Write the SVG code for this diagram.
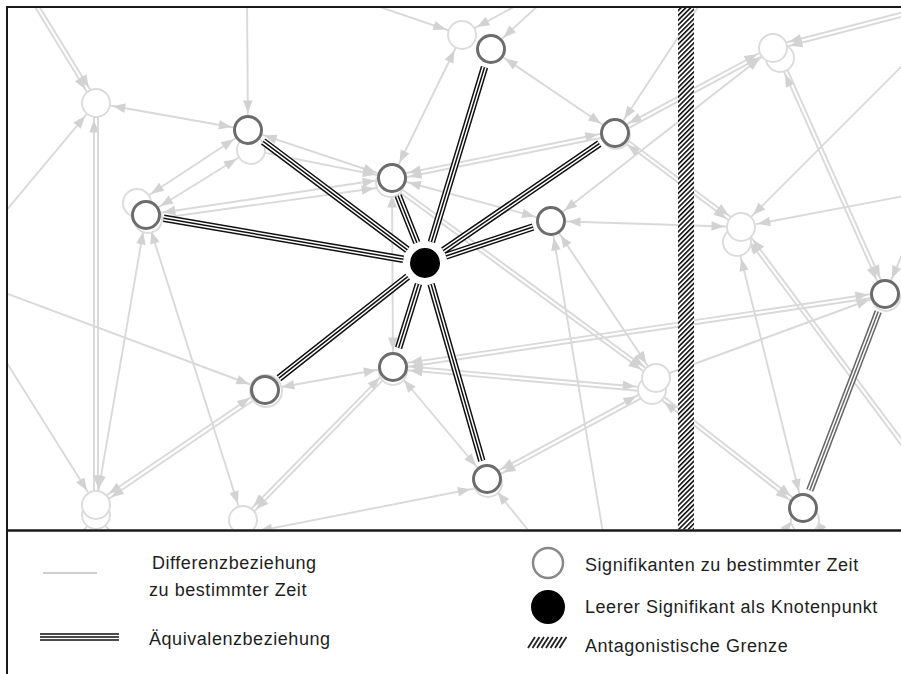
<svg xmlns="http://www.w3.org/2000/svg" xmlns:xlink="http://www.w3.org/1999/xlink" width="901" height="674" viewBox="0 0 901 674">
<style>
.d{stroke:#d9d9d9;stroke-width:1.9;fill:none}
.e{marker-end:url(#ae)}
.s{marker-start:url(#as)}
.g{fill:#fff;stroke:#dcdcdc;stroke-width:2}
.n{fill:#fff;stroke:#6c6c6c;stroke-width:3}
.k1{stroke:#111;stroke-width:7.5;fill:none}
.k2{stroke:#fff;stroke-width:4.5;fill:none}
.k3{stroke:#111;stroke-width:1.5;fill:none}
.m1{stroke:#666;stroke-width:7.5;fill:none}
.m2{stroke:#fff;stroke-width:4.5;fill:none}
.m3{stroke:#666;stroke-width:1.5;fill:none}
.t{font-family:"Liberation Sans",Arial,sans-serif;font-size:18px;fill:#1e1e1e;letter-spacing:0.55px}
.f{stroke:#1a1a1a;fill:none}
</style>
<defs>
<marker id="ae" markerUnits="userSpaceOnUse" orient="auto" refX="0" refY="0" markerWidth="1" markerHeight="1" overflow="visible"><path d="M-29.5,-4.8 L-17,0 L-29.5,4.8 z" fill="#d2d2d2"/></marker>
<marker id="as" markerUnits="userSpaceOnUse" orient="auto" refX="0" refY="0" markerWidth="1" markerHeight="1" overflow="visible"><path d="M29.5,-4.8 L17,0 L29.5,4.8 z" fill="#d2d2d2"/></marker>
<pattern id="hatch" width="3.4" height="3.4" patternUnits="userSpaceOnUse" patternTransform="rotate(45)"><rect width="1.6" height="3.4" fill="#111"/></pattern>
<clipPath id="clip"><rect x="8" y="8" width="893" height="521.5"/></clipPath>
<path id="eqp" d="M407.4,249.8L263.2,141.4 M403.3,259.3L163.7,218.2 M416.8,242.6L398.1,195.7 M431.4,242L484.5,67.2 M443.2,250.6L599.3,143.7 M445.9,256L533,227 M407.7,276.6L278.9,378.2 M418.5,284L398.6,347.9 M431.1,284.1L481.8,460.7"/>
<path id="eqq" d="M878.2,311.7L809.8,490.3"/>
</defs>
<rect width="901" height="674" fill="#fff"/>
<g clip-path="url(#clip)">
<g id="connectors">
<line class="d e" x1="28.3" y1="-4" x2="94.3" y2="104"/>
<line class="d e" x1="31.7" y1="-6" x2="97.7" y2="102"/>
<line class="d e" x1="247" y1="-5" x2="248" y2="130"/>
<line class="d s e" x1="96" y1="103" x2="248" y2="130"/>
<line class="d e" x1="0" y1="218" x2="96" y2="103"/>
<line class="d s" x1="94" y1="103" x2="94" y2="505"/>
<line class="d e" x1="98" y1="103" x2="98" y2="505"/>
<line class="d s e" x1="248" y1="130" x2="137" y2="203"/>
<line class="d s e" x1="251" y1="150" x2="146" y2="215"/>
<line class="d s e" x1="248" y1="130" x2="392" y2="178"/>
<line class="d e" x1="251" y1="150" x2="392" y2="178"/>
<line class="d s e" x1="146" y1="215" x2="392" y2="178"/>
<line class="d e" x1="147" y1="220" x2="391" y2="186"/>
<line class="d s e" x1="146" y1="215" x2="96" y2="505"/>
<line class="d s e" x1="146" y1="215" x2="243" y2="520"/>
<line class="d e" x1="0" y1="291" x2="265" y2="390"/>
<line class="d e" x1="0" y1="352" x2="96" y2="505"/>
<line class="d s e" x1="263.9" y1="388.3" x2="94.9" y2="503.3"/>
<line class="d e" x1="266.1" y1="391.7" x2="97.1" y2="506.7"/>
<line class="d s e" x1="265" y1="390" x2="393" y2="367"/>
<line class="d s e" x1="391.6" y1="365.6" x2="241.6" y2="518.6"/>
<line class="d e" x1="394.4" y1="368.4" x2="244.4" y2="521.4"/>
<line class="d s e" x1="243" y1="534" x2="487" y2="486"/>
<line class="d s e" x1="392" y1="178" x2="393" y2="367"/>
<line class="d s e" x1="392" y1="178" x2="462" y2="35"/>
<line class="d e" x1="330" y1="-10" x2="462" y2="35"/>
<line class="d e" x1="545" y1="-10" x2="462" y2="35"/>
<line class="d e" x1="555" y1="-10" x2="491" y2="49"/>
<line class="d s e" x1="491" y1="49" x2="615" y2="133"/>
<line class="d s e" x1="614.6" y1="131" x2="391.6" y2="176"/>
<line class="d e" x1="615.4" y1="135" x2="392.4" y2="180"/>
<line class="d s e" x1="392" y1="178" x2="551" y2="221"/>
<line class="d s e" x1="551" y1="221" x2="773" y2="48"/>
<line class="d s e" x1="614" y1="131.2" x2="772" y2="46.2"/>
<line class="d e" x1="616" y1="134.8" x2="774" y2="49.8"/>
<line class="d e" x1="706" y1="-5" x2="615" y2="133"/>
<line class="d s e" x1="613.8" y1="134.6" x2="739.8" y2="228.6"/>
<line class="d e" x1="616.2" y1="131.4" x2="742.2" y2="225.4"/>
<line class="d s e" x1="551" y1="221" x2="741" y2="227"/>
<line class="d e" x1="919.5" y1="8" x2="772.5" y2="46"/>
<line class="d e" x1="920.5" y1="12" x2="773.5" y2="50"/>
<line class="d s e" x1="778.2" y1="58.8" x2="883.2" y2="294.8"/>
<line class="d e" x1="781.8" y1="57.2" x2="886.8" y2="293.2"/>
<line class="d e" x1="920" y1="48" x2="741" y2="227"/>
<line class="d e" x1="920" y1="193" x2="741" y2="227"/>
<line class="d e" x1="915" y1="225" x2="885" y2="294"/>
<line class="d s e" x1="737" y1="242" x2="803" y2="508"/>
<line class="d e" x1="921.6" y1="465.8" x2="742.6" y2="225.8"/>
<line class="d e" x1="918.4" y1="468.2" x2="739.4" y2="228.2"/>
<line class="d s e" x1="551" y1="221" x2="656" y2="378"/>
<line class="d s" x1="551" y1="221" x2="605" y2="545"/>
<line class="d e" x1="388.8" y1="184.6" x2="654.8" y2="379.6"/>
<line class="d e" x1="391.2" y1="181.4" x2="657.2" y2="376.4"/>
<line class="d s e" x1="392.7" y1="365" x2="884.7" y2="292"/>
<line class="d s" x1="393.3" y1="369" x2="885.3" y2="296"/>
<line class="d s e" x1="652.2" y1="388" x2="393.2" y2="365"/>
<line class="d e" x1="651.8" y1="392" x2="392.8" y2="369"/>
<line class="d e" x1="656" y1="378" x2="885" y2="294"/>
<line class="d s e" x1="651" y1="388.2" x2="486" y2="477.2"/>
<line class="d e" x1="653" y1="391.8" x2="488" y2="480.8"/>
<line class="d s e" x1="650.8" y1="391.6" x2="801.8" y2="509.6"/>
<line class="d e" x1="653.2" y1="388.4" x2="804.2" y2="506.4"/>
<line class="d s e" x1="393" y1="367" x2="487" y2="479"/>
<line class="d e" x1="548" y1="555" x2="487" y2="479"/>
<line class="d e" x1="760" y1="560" x2="803" y2="508"/>
<line class="d e" x1="850" y1="560" x2="803" y2="508"/>
<line class="d e" x1="60" y1="560" x2="96" y2="515"/>
<line class="d e" x1="135" y1="560" x2="96" y2="515"/>
</g>
<g id="ghosts">
<g id="g1"><circle class="g" cx="96" cy="103" r="14"/></g>
<g id="g2"><circle class="g" cx="462" cy="35" r="14"/></g>
<g id="g3"><circle class="g" cx="780" cy="58" r="14"/><circle class="g" cx="773" cy="48" r="14"/></g>
<g id="g4"><circle class="g" cx="737" cy="242" r="14"/><circle class="g" cx="741" cy="227" r="14"/></g>
<g id="g5"><circle class="g" cx="652" cy="390" r="14"/><circle class="g" cx="656" cy="378" r="14"/></g>
<g id="g6"><circle class="g" cx="96" cy="515" r="14"/><circle class="g" cx="96" cy="505" r="14"/></g>
<g id="g7"><circle class="g" cx="243" cy="520" r="14"/></g>
<circle class="g" cx="251" cy="150" r="14"/>
<circle class="g" cx="137" cy="203" r="14"/>
<circle class="g" cx="148" cy="219" r="14"/>
<circle class="g" cx="390" cy="183" r="14"/>
<circle class="g" cx="266" cy="391" r="16"/>
<circle class="g" cx="393" cy="371" r="14"/>
<circle class="g" cx="488" cy="483" r="14"/>
<circle class="g" cx="805" cy="520" r="14"/>
<circle class="g" cx="886" cy="297" r="14"/>
<circle class="g" cx="616" cy="135" r="14"/>
</g>
<g id="equivalences">
<use xlink:href="#eqp" class="k1"/>
<use xlink:href="#eqp" class="k2"/>
<use xlink:href="#eqp" class="k3"/>
<use xlink:href="#eqq" class="m1"/>
<use xlink:href="#eqq" class="m2"/>
<use xlink:href="#eqq" class="m3"/>
</g>
<g id="n1"><circle class="n" cx="248" cy="130" r="13.5"/></g>
<g id="n2"><circle class="n" cx="146" cy="215" r="13.5"/></g>
<g id="n3"><circle class="n" cx="392" cy="178" r="13.5"/></g>
<g id="n4"><circle class="n" cx="491" cy="49" r="13.5"/></g>
<g id="n5"><circle class="n" cx="615" cy="133" r="13.5"/></g>
<g id="n6"><circle class="n" cx="551" cy="221" r="13.5"/></g>
<g id="n7"><circle class="n" cx="265" cy="390" r="13.5"/></g>
<g id="n8"><circle class="n" cx="393" cy="367" r="13.5"/></g>
<g id="n9"><circle class="n" cx="487" cy="479" r="13.5"/></g>
<g id="n10"><circle class="n" cx="885" cy="294" r="13.5"/></g>
<g id="n11"><circle class="n" cx="803" cy="508" r="13.5"/></g>
<g id="center"><circle cx="425" cy="263" r="16.5" fill="#000" stroke="#fff" stroke-width="3"/></g>
<g id="boundary"><rect x="678" y="7" width="16" height="524" fill="#fff"/><rect x="678" y="7" width="16" height="524" fill="url(#hatch)"/></g>
</g>
<g id="frame">
<line class="f" x1="6" y1="7" x2="901" y2="7" stroke-width="2"/>
<line class="f" x1="7" y1="6" x2="7" y2="674" stroke-width="2"/>
<line class="f" x1="6" y1="530.5" x2="901" y2="530.5" stroke-width="2.5"/>
</g>
<g id="legend">
<line x1="43" y1="573" x2="97" y2="573" stroke="#cfcfcf" stroke-width="2"/>
<text class="t" x="152" y="569">Differenzbeziehung</text>
<text class="t" x="149" y="596">zu bestimmter Zeit</text>
<g><line x1="40" y1="637" x2="119" y2="637" class="k1"/><line x1="40" y1="637" x2="119" y2="637" class="k2"/><line x1="40" y1="637" x2="119" y2="637" class="k3"/></g>
<text class="t" x="149" y="645">Äquivalenzbeziehung</text>
<circle cx="548" cy="563" r="15" fill="#fff" stroke="#888" stroke-width="2.5"/>
<text class="t" x="585" y="571">Signifikanten zu bestimmter Zeit</text>
<circle cx="548" cy="607" r="17" fill="#000"/>
<text class="t" x="585" y="613">Leerer Signifikant als Knotenpunkt</text>
<g stroke="#222" stroke-width="1.8">
<line x1="528" y1="648" x2="535" y2="637"/>
<line x1="532.5" y1="648" x2="539.5" y2="637"/>
<line x1="537" y1="648" x2="544" y2="637"/>
<line x1="541.5" y1="648" x2="548.5" y2="637"/>
<line x1="546" y1="648" x2="553" y2="637"/>
<line x1="550.5" y1="648" x2="557.5" y2="637"/>
<line x1="555" y1="648" x2="562" y2="637"/>
<line x1="559.5" y1="648" x2="566.5" y2="637"/>
</g>
<text class="t" x="585" y="652">Antagonistische Grenze</text>
</g>
</svg>
